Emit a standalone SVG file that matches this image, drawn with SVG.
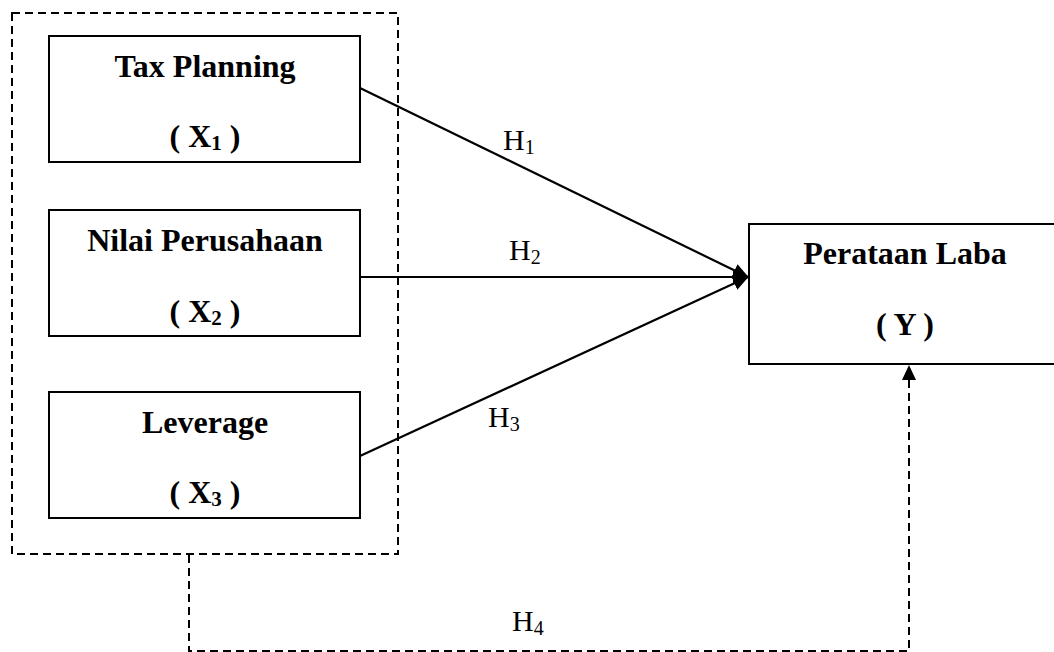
<svg xmlns="http://www.w3.org/2000/svg" width="1054" height="652" viewBox="0 0 1054 652">
<style>
.box{fill:#fff;stroke:#000;stroke-width:2}
.dash{fill:none;stroke:#000;stroke-width:2;stroke-dasharray:8 5}
.arr{fill:none;stroke:#000;stroke-width:2.2}
.t{font-family:"Liberation Serif","Times New Roman",serif;font-weight:bold;font-size:32px;text-anchor:middle;fill:#000}
.h{font-family:"Liberation Serif","Times New Roman",serif;font-size:30px;fill:#000}
.sub{font-size:20px}
</style>
<defs>
<marker id="ah" markerWidth="16" markerHeight="16" viewBox="0 0 16 16" refX="15" refY="8" orient="auto" markerUnits="userSpaceOnUse">
<path d="M0,1 L16,8 L0,15 Z" fill="#000"/>
</marker>
</defs>
<rect id="group-box" class="dash" x="12" y="13" width="386" height="541"/>
<g id="connectors">
<line class="arr" x1="360" y1="88" x2="748" y2="277" marker-end="url(#ah)"/>
<line class="arr" x1="360" y1="277" x2="748" y2="277" marker-end="url(#ah)"/>
<line class="arr" x1="360" y1="456" x2="748" y2="277" marker-end="url(#ah)"/>
<polyline class="dash" points="189,555 189,651 909,651 909,378"/>
<path d="M902,380 L909,365 L916,380 Z" fill="#000"/>
<text class="h" x="503" y="150">H<tspan class="sub" dy="4">1</tspan></text>
<text class="h" x="509" y="260">H<tspan class="sub" dy="4">2</tspan></text>
<text class="h" x="488" y="427">H<tspan class="sub" dy="4">3</tspan></text>
<text class="h" x="512" y="631">H<tspan class="sub" dy="4">4</tspan></text>
</g>
<g id="x1">
<rect class="box" x="49" y="36" width="311" height="126"/>
<text class="t" x="205" y="77">Tax Planning</text>
<text class="t" x="205" y="147">( X<tspan font-size="21" dy="3">1</tspan><tspan dy="-3"> )</tspan></text>
</g>
<g id="x2">
<rect class="box" x="49" y="210" width="311" height="126"/>
<text class="t" x="205" y="251">Nilai Perusahaan</text>
<text class="t" x="205" y="322">( X<tspan font-size="21" dy="3">2</tspan><tspan dy="-3"> )</tspan></text>
</g>
<g id="x3">
<rect class="box" x="49" y="392" width="311" height="126"/>
<text class="t" x="205" y="433">Leverage</text>
<text class="t" x="205" y="503">( X<tspan font-size="21" dy="3">3</tspan><tspan dy="-3"> )</tspan></text>
</g>
<g id="y">
<rect class="box" x="749" y="224" width="320" height="140"/>
<text class="t" x="905" y="264">Perataan Laba</text>
<text class="t" x="905" y="335">( Y )</text>
</g>
</svg>
